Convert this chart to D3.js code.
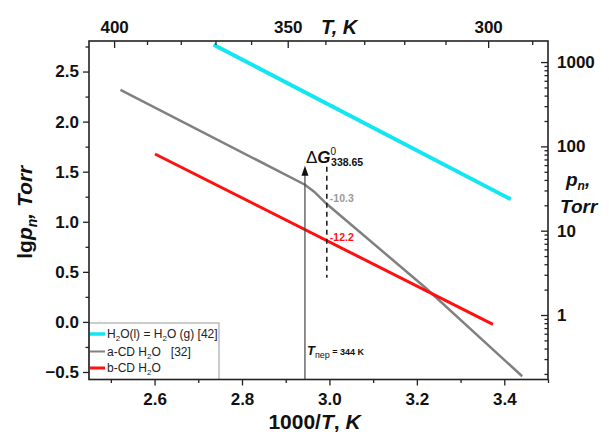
<!DOCTYPE html>
<html>
<head>
<meta charset="utf-8">
<script src="https://cdn.jsdelivr.net/npm/d3@7"></script>
<style>
  body { margin: 0; background: #fff; }
  text { font-family: "Liberation Sans", Arial, sans-serif; }
</style>
</head>
<body>
<svg id="chart"></svg>
<script>
// lg p vs 1000/T for water and the cyclodextrin hydrates
const waterX = [2.735, 3.415];
const waterLgP = [2.767, 1.224];
const aCdX = [2.522, 2.944, 2.965, 2.994, 3.219, 3.441];
const aCdLgP = [2.317, 1.37, 1.3, 1.177, 0.344, -0.543];
const bCdX = [2.601, 3.374];
const bCdLgP = [1.677, -0.025];

const seriesNames = ["water", "a-CD", "b-CD"];
const seriesColors = ["#12e6f2", "#808080", "#ff1010"];

const xTicks = [2.6, 2.8, 3.0, 3.2, 3.4];
const xMinor = [2.5, 2.7, 2.9, 3.1, 3.3, 3.5];
const yTicks = [-0.5, 0, 0.5, 1.0, 1.5, 2.0, 2.5];
const yMinor = [-0.25, 0.25, 0.75, 1.25, 1.75, 2.25, 2.75];
const topTicksT = [400, 350, 300];
const topMinorT = [390, 380, 370, 360, 340, 330, 320, 310, 290];
const pTicks = [1, 10, 100, 1000];

// annotation values
const arrowX = 2.944;
const arrowTop = 1.56;
const dashX = 2.994;
const dashRange = [1.55, 0.44];
const dgValues = ["-10.3", "-12.2"];
const dgLgP = [1.237, 0.845];

const width = 609;
const height = 432;
const margin = { top: 41, right: 61, bottom: 52.5, left: 89 };

const x = d3.scaleLinear([2.45, 3.5], [margin.left, width - margin.right]);
const y = d3.scaleLinear([-0.575, 2.805], [height - margin.bottom, margin.top]);
const yP = d3.scaleLog([0.1718, 1778], [height - margin.bottom, margin.top]);
// the top T axis of the original is logarithmic in T
const xT = d3.scaleLog([407.8, 286.5], [margin.left, width - margin.right]);

const svg = d3.select("#chart").attr("width", width).attr("height", height);

// series
const series = [
  d3.zip(waterX, waterLgP),
  d3.zip(aCdX, aCdLgP),
  d3.zip(bCdX, bCdLgP),
];
const strokeW = [4, 2.5, 3];
const line = d3.line().x((d) => x(d[0])).y((d) => y(d[1]));

svg
  .append("g")
  .selectAll("path")
  .data(series)
  .join("path")
  .attr("d", line)
  .attr("fill", "none")
  .attr("stroke", (d, i) => seriesColors[i])
  .attr("stroke-width", (d, i) => strokeW[i]);

// vertical arrow (transition temperature)
svg
  .append("line")
  .attr("x1", x(arrowX))
  .attr("x2", x(arrowX))
  .attr("y1", y.range()[0])
  .attr("y2", y(arrowTop) + 8)
  .attr("stroke", "#444")
  .attr("stroke-width", 1.2);
svg
  .append("path")
  .attr("d", `M${x(arrowX)},${y(arrowTop)} l-3.5,10 l7,0 z`)
  .attr("fill", "#111");

svg
  .append("line")
  .attr("x1", x(dashX))
  .attr("x2", x(dashX))
  .attr("y1", y(dashRange[0]))
  .attr("y2", y(dashRange[1]))
  .attr("stroke", "#222")
  .attr("stroke-width", 1.6)
  .attr("stroke-dasharray", "5,4");

svg
  .append("g")
  .selectAll("text")
  .data(dgValues)
  .join("text")
  .attr("x", x(dashX) + 3)
  .attr("y", (d, i) => y(dgLgP[i]))
  .attr("dy", "0.35em")
  .style("font-size", "10.5px")
  .style("font-weight", "bold")
  .style("fill", (d, i) => (i === 0 ? "#9a9a9a" : "#ff1010"))
  .text((d) => d);

// ΔG label
const dg = svg
  .append("text")
  .attr("x", x(arrowX) + 1)
  .attr("y", 163)
  .style("font-size", "17px")
  .style("fill", "#111");
dg.append("tspan").text("Δ");
dg.append("tspan").style("font-style", "italic").style("font-weight", "bold").text("G");
dg.append("tspan").attr("dy", -8).style("font-size", "10px").text("0");
dg.append("tspan").attr("dx", -5).attr("dy", 11).style("font-size", "10.5px").style("font-weight", "bold").text("338.65");

// T_пер label
const tp = svg
  .append("text")
  .attr("x", x(arrowX) + 2)
  .attr("y", 355)
  .style("fill", "#111");
tp.append("tspan").style("font-size", "13px").style("font-style", "italic").style("font-weight", "bold").text("T");
tp.append("tspan").attr("dy", 3).style("font-size", "9px").text("пер");
tp.append("tspan").attr("dy", -3).style("font-size", "9px").style("font-weight", "bold").text(" = 344 K");

// legend
const legend = svg.append("g");
legend
  .append("rect")
  .attr("x", margin.left)
  .attr("y", 323)
  .attr("width", 130)
  .attr("height", height - margin.bottom - 323)
  .attr("fill", "#fff")
  .attr("stroke", "#999")
  .attr("stroke-width", 1);
const legRows = [334, 351.5, 368];
legend
  .selectAll("line")
  .data(seriesNames)
  .join("line")
  .attr("x1", margin.left + 1)
  .attr("x2", margin.left + 16)
  .attr("y1", (d, i) => legRows[i])
  .attr("y2", (d, i) => legRows[i])
  .attr("stroke", (d, i) => seriesColors[i])
  .attr("stroke-width", (d, i) => [3.5, 2, 3][i]);
const legTexts = [
  [["H"], ["2", "sub"], ["O(l) = H"], ["2", "sub"], ["O (g) [42]"]],
  [["a-CD H"], ["2", "sub"], ["O   [32]"]],
  [["b-CD H"], ["2", "sub"], ["O"]],
];
legTexts.forEach((parts, i) => {
  const t = legend
    .append("text")
    .attr("x", margin.left + 18)
    .attr("y", legRows[i])
    .attr("dy", "0.35em")
    .style("font-size", "12px")
    .style("fill", "#222")
    .style("white-space", "pre");
  parts.forEach(([s, kind]) => {
    const sp = t.append("tspan").text(s);
    if (kind === "sub") sp.attr("dy", 3).style("font-size", "8px");
    else if (t.selectAll("tspan").size() > 1) sp.attr("dy", -3);
  });
});

// axes
const axisStyle = (g) =>
  g.call((g) => g.select(".domain").remove())
    .call((g) => g.selectAll("line").attr("stroke", "#222").attr("stroke-width", 1.3))
    .call((g) =>
      g.selectAll("text")
        .style("font-size", "17px")
        .style("font-weight", "bold")
        .style("fill", "#111")
        .style("font-family", '"Liberation Sans", Arial, sans-serif')
    );

const yb = height - margin.bottom;
const xr = width - margin.right;

svg.append("g").attr("transform", `translate(0,${yb})`)
  .call(d3.axisBottom(x).tickValues(xTicks).tickSize(6).tickPadding(7).tickFormat(d3.format(".1f")))
  .call(axisStyle);
svg.append("g").attr("transform", `translate(0,${yb})`)
  .call(d3.axisBottom(x).tickValues(xMinor).tickSize(3.5).tickFormat(""))
  .call(axisStyle);

svg.append("g").attr("transform", `translate(${margin.left},0)`)
  .call(d3.axisLeft(y).tickValues(yTicks).tickSize(6).tickPadding(4).tickFormat(d3.format(".1f")))
  .call(axisStyle);
svg.append("g").attr("transform", `translate(${margin.left},0)`)
  .call(d3.axisLeft(y).tickValues(yMinor).tickSize(3.5).tickFormat(""))
  .call(axisStyle);

svg.append("g").attr("transform", `translate(0,${margin.top})`)
  .call(d3.axisTop(xT).tickValues(topTicksT).tickSizeInner(-7).tickSizeOuter(0)
    .tickPadding(8.5).tickFormat(d3.format("d")))
  .call(axisStyle);
svg.append("g").attr("transform", `translate(0,${margin.top})`)
  .call(d3.axisTop(xT).tickValues(topMinorT).tickSizeInner(-4).tickSizeOuter(0).tickFormat(""))
  .call(axisStyle);

const pMinor = [];
[0.1, 1, 10, 100].forEach((dec) => {
  for (let k = 2; k <= 9; k++) {
    const v = dec * k;
    if (v >= yP.domain()[0] && v <= yP.domain()[1]) pMinor.push(v);
  }
});
svg.append("g").attr("transform", `translate(${xr},0)`)
  .call(d3.axisRight(yP).tickValues(pTicks).tickSizeInner(-7).tickSizeOuter(0).tickPadding(9).tickFormat(d3.format("d")))
  .call(axisStyle);
svg.append("g").attr("transform", `translate(${xr},0)`)
  .call(d3.axisRight(yP).tickValues(pMinor).tickSizeInner(-3.5).tickSizeOuter(0).tickFormat(""))
  .call(axisStyle);

// frame
svg.append("rect")
  .attr("x", margin.left)
  .attr("y", margin.top)
  .attr("width", xr - margin.left)
  .attr("height", yb - margin.top)
  .attr("fill", "none")
  .attr("stroke", "#222")
  .attr("stroke-width", 1.6);

// axis titles
svg.append("text")
  .attr("x", (margin.left + xr) / 2 - 4)
  .attr("y", 429)
  .attr("text-anchor", "middle")
  .style("font-size", "21px")
  .style("font-weight", "bold")
  .style("fill", "#111")
  .call((t) => {
    t.append("tspan").text("1000/");
    t.append("tspan").style("font-style", "italic").text("T");
    t.append("tspan").text(", ");
    t.append("tspan").style("font-style", "italic").text("K");
  });

svg.append("text")
  .attr("x", 321)
  .attr("y", 34)
  .style("font-size", "20px")
  .style("font-weight", "bold")
  .style("font-style", "italic")
  .style("fill", "#111")
  .text("T, K");

svg.append("text")
  .attr("transform", `translate(32,${(margin.top + yb) / 2 + 2}) rotate(-90)`)
  .attr("text-anchor", "middle")
  .style("font-size", "21px")
  .style("font-weight", "bold")
  .style("fill", "#111")
  .call((t) => {
    t.append("tspan").text("lg");
    t.append("tspan").style("font-style", "italic").text("p");
    t.append("tspan").attr("dy", 5).style("font-size", "14px").style("font-style", "italic").text("n");
    t.append("tspan").attr("dy", -5).style("font-style", "italic").text(", Torr");
  });

const rt = svg.append("g")
  .style("font-size", "19px")
  .style("font-weight", "bold")
  .style("font-style", "italic")
  .style("fill", "#111");
rt.append("text").attr("x", 566).attr("y", 186)
  .call((t) => {
    t.append("tspan").text("p");
    t.append("tspan").attr("dy", 4).style("font-size", "12px").text("n");
    t.append("tspan").attr("dy", -4).text(",");
  });
rt.append("text").attr("x", 560).attr("y", 213).text("Torr");
</script>
</body>
</html>
